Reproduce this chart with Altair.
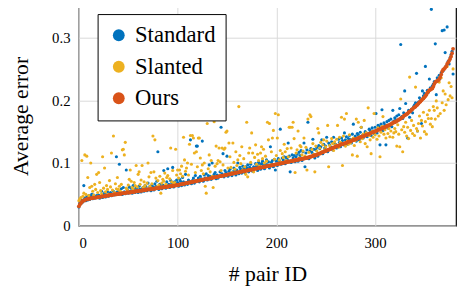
import altair as alt
import pandas as pd

# ---- data ----
ours = [
0.031,0.034,0.036,0.038,0.040,0.040,0.041,0.042,0.042,0.043,0.043,0.043,0.044,0.044,0.044,0.045,0.045,0.045,0.045,0.046,
0.046,0.046,0.046,0.047,0.047,0.047,0.047,0.048,0.048,0.048,0.048,0.049,0.049,0.049,0.049,0.050,0.050,0.050,0.050,0.051,
0.051,0.051,0.051,0.051,0.052,0.052,0.052,0.052,0.053,0.053,0.053,0.053,0.053,0.054,0.054,0.054,0.054,0.055,0.055,0.055,
0.055,0.056,0.056,0.056,0.056,0.057,0.057,0.057,0.057,0.058,0.058,0.058,0.058,0.058,0.059,0.059,0.059,0.059,0.060,0.060,
0.060,0.060,0.061,0.061,0.061,0.061,0.062,0.062,0.062,0.062,0.062,0.063,0.063,0.063,0.063,0.064,0.064,0.064,0.064,0.065,
0.065,0.065,0.066,0.066,0.066,0.067,0.067,0.067,0.068,0.068,0.068,0.069,0.069,0.069,0.070,0.070,0.070,0.071,0.071,0.071,
0.072,0.072,0.072,0.073,0.073,0.073,0.074,0.074,0.074,0.075,0.075,0.075,0.075,0.076,0.076,0.076,0.077,0.077,0.077,0.078,
0.078,0.078,0.079,0.079,0.079,0.080,0.080,0.080,0.081,0.081,0.081,0.082,0.082,0.082,0.083,0.083,0.083,0.084,0.084,0.084,
0.085,0.085,0.085,0.086,0.086,0.086,0.087,0.087,0.087,0.088,0.088,0.088,0.089,0.089,0.089,0.090,0.090,0.090,0.091,0.091,
0.091,0.092,0.092,0.092,0.093,0.093,0.093,0.094,0.094,0.094,0.095,0.095,0.095,0.096,0.096,0.096,0.097,0.097,0.097,0.098,
0.098,0.098,0.099,0.099,0.099,0.100,0.100,0.100,0.101,0.101,0.101,0.102,0.102,0.102,0.103,0.103,0.103,0.104,0.104,0.104,
0.105,0.105,0.105,0.106,0.106,0.106,0.107,0.107,0.107,0.108,0.108,0.108,0.109,0.109,0.110,0.110,0.111,0.111,0.112,0.112,
0.113,0.113,0.114,0.115,0.115,0.116,0.117,0.117,0.118,0.119,0.119,0.120,0.121,0.121,0.122,0.123,0.123,0.124,0.125,0.125,
0.126,0.127,0.127,0.128,0.128,0.129,0.130,0.130,0.131,0.131,0.132,0.132,0.133,0.134,0.134,0.135,0.135,0.136,0.137,0.137,
0.138,0.138,0.139,0.140,0.140,0.141,0.142,0.142,0.143,0.143,0.144,0.145,0.145,0.146,0.147,0.147,0.148,0.149,0.149,0.150,
0.151,0.151,0.152,0.153,0.153,0.154,0.155,0.155,0.156,0.157,0.157,0.158,0.159,0.160,0.160,0.161,0.162,0.163,0.164,0.165,
0.165,0.166,0.167,0.168,0.169,0.170,0.171,0.172,0.173,0.175,0.176,0.177,0.178,0.179,0.181,0.182,0.183,0.185,0.186,0.188,
0.189,0.190,0.192,0.193,0.195,0.197,0.198,0.200,0.202,0.203,0.205,0.207,0.209,0.212,0.214,0.216,0.217,0.218,0.219,0.222,
0.226,0.229,0.230,0.231,0.232,0.234,0.237,0.241,0.246,0.249,0.250,0.252,0.254,0.258,0.260,0.263,0.266,0.270,0.275,0.282,
]

standard = [
0.030,0.036,0.035,0.041,0.038,0.064,0.044,0.040,0.046,0.041,0.048,0.042,0.047,0.050,0.043,0.049,0.044,0.046,0.048,0.045,
0.049,0.044,0.047,0.055,0.045,0.048,0.052,0.046,0.049,0.054,0.047,0.051,0.053,0.048,0.050,0.055,0.049,0.052,0.110,0.054,
0.050,0.098,0.053,0.059,0.050,0.061,0.054,0.051,0.089,0.058,0.052,0.062,0.055,0.060,0.052,0.064,0.058,0.053,0.061,0.059,
0.053,0.063,0.058,0.054,0.059,0.061,0.055,0.064,0.062,0.056,0.068,0.059,0.063,0.056,0.065,0.062,0.057,0.067,0.063,0.071,
0.118,0.058,0.066,0.062,0.059,0.065,0.088,0.063,0.060,0.070,0.091,0.066,0.061,0.072,0.068,0.093,0.062,0.070,0.067,0.073,
0.069,0.063,0.074,0.071,0.064,0.077,0.070,0.065,0.082,0.069,0.066,0.073,0.071,0.137,0.067,0.072,0.076,0.068,0.080,0.127,
0.127,0.076,0.070,0.079,0.075,0.135,0.071,0.081,0.076,0.083,0.073,0.080,0.097,0.079,0.074,0.100,0.078,0.082,0.085,0.075,
0.081,0.076,0.079,0.086,0.157,0.083,0.115,0.078,0.088,0.085,0.111,0.079,0.087,0.090,0.084,0.080,0.086,0.092,0.088,0.081,
0.089,0.100,0.083,0.093,0.090,0.084,0.095,0.091,0.085,0.094,0.092,0.097,0.086,0.093,0.098,0.091,0.087,0.094,0.092,0.099,
0.095,0.088,0.101,0.097,0.090,0.099,0.103,0.096,0.091,0.098,0.105,0.097,0.102,0.092,0.126,0.101,0.104,0.094,0.106,0.089,
0.103,0.096,0.107,0.104,0.154,0.098,0.108,0.105,0.110,0.099,0.109,0.106,0.132,0.111,0.086,0.101,0.113,0.108,0.112,0.102,
0.110,0.114,0.103,0.117,0.112,0.120,0.104,0.118,0.132,0.094,0.116,0.121,0.165,0.107,0.119,0.123,0.117,0.138,0.122,0.108,
0.121,0.125,0.111,0.128,0.123,0.126,0.137,0.115,0.130,0.124,0.127,0.141,0.118,0.132,0.129,0.126,0.134,0.121,0.141,0.131,
0.130,0.124,0.128,0.138,0.133,0.126,0.140,0.136,0.129,0.148,0.137,0.142,0.130,0.139,0.144,0.138,0.132,0.146,0.162,0.140,
0.143,0.135,0.147,0.145,0.137,0.149,0.157,0.144,0.140,0.146,0.150,0.148,0.142,0.145,0.154,0.152,0.144,0.156,0.151,0.147,
0.157,0.179,0.148,0.160,0.158,0.129,0.162,0.185,0.152,0.164,0.161,0.129,0.166,0.156,0.168,0.160,0.170,0.158,0.184,0.167,
0.172,0.169,0.175,0.168,0.177,0.187,0.289,0.174,0.171,0.180,0.215,0.195,0.178,0.140,0.184,0.173,0.182,0.186,0.180,0.190,
0.193,0.196,0.243,0.151,0.197,0.204,0.200,0.163,0.215,0.207,0.211,0.254,0.209,0.216,0.213,0.234,0.220,0.345,0.223,0.226,
0.230,0.290,0.209,0.236,0.233,0.240,0.235,0.244,0.311,0.247,0.312,0.276,0.255,0.317,0.262,0.258,0.268,0.273,0.278,0.242,
]

slanted = [
0.040,0.043,0.045,0.104,0.047,0.052,0.113,0.050,0.111,0.077,0.048,0.061,0.100,0.063,0.055,0.049,0.066,0.058,0.082,0.053,
0.085,0.069,0.056,0.051,0.110,0.060,0.092,0.054,0.064,0.058,0.050,0.072,0.062,0.116,0.057,0.143,0.053,0.067,0.059,0.077,
0.058,0.063,0.055,0.066,0.121,0.122,0.113,0.133,0.060,0.057,0.065,0.074,0.089,0.071,0.061,0.059,0.069,0.064,0.096,0.062,
0.082,0.086,0.066,0.073,0.096,0.061,0.070,0.064,0.059,0.068,0.100,0.078,0.063,0.085,0.067,0.143,0.086,0.137,0.076,0.062,
0.072,0.065,0.079,0.052,0.068,0.074,0.071,0.084,0.066,0.077,0.080,0.063,0.075,0.124,0.070,0.088,0.067,0.069,0.122,0.081,
0.089,0.076,0.089,0.083,0.095,0.079,0.141,0.105,0.087,0.092,0.100,0.081,0.130,0.144,0.098,0.144,0.140,0.116,0.085,0.118,
0.094,0.140,0.140,0.108,0.088,0.097,0.083,0.100,0.063,0.052,0.163,0.091,0.113,0.086,0.104,0.079,0.061,0.166,0.095,0.127,
0.099,0.104,0.124,0.102,0.088,0.124,0.097,0.122,0.124,0.149,0.151,0.092,0.132,0.110,0.093,0.085,0.132,0.101,0.090,0.118,
0.096,0.105,0.190,0.112,0.099,0.126,0.089,0.107,0.094,0.082,0.165,0.078,0.116,0.124,0.101,0.148,0.116,0.086,0.109,0.129,
0.098,0.114,0.104,0.095,0.116,0.126,0.107,0.122,0.100,0.111,0.103,0.165,0.137,0.163,0.097,0.118,0.140,0.152,0.106,0.179,
0.112,0.140,0.177,0.105,0.120,0.101,0.115,0.109,0.130,0.118,0.104,0.123,0.110,0.157,0.157,0.124,0.157,0.165,0.139,0.085,
0.116,0.121,0.151,0.108,0.128,0.126,0.113,0.119,0.140,0.111,0.125,0.089,0.170,0.117,0.177,0.174,0.122,0.131,0.114,0.086,
0.127,0.119,0.155,0.148,0.124,0.133,0.118,0.129,0.137,0.121,0.126,0.135,0.160,0.094,0.128,0.123,0.139,0.131,0.120,0.134,
0.129,0.138,0.160,0.125,0.141,0.133,0.173,0.096,0.143,0.170,0.127,0.179,0.135,0.130,0.145,0.132,0.137,0.113,0.140,0.128,
0.136,0.170,0.111,0.165,0.142,0.134,0.157,0.139,0.146,0.168,0.131,0.148,0.126,0.188,0.144,0.137,0.115,0.150,0.141,0.179,
0.145,0.152,0.138,0.156,0.143,0.110,0.149,0.158,0.174,0.146,0.153,0.140,0.160,0.147,0.155,0.142,0.151,0.162,0.141,0.148,
0.155,0.150,0.127,0.161,0.146,0.126,0.202,0.153,0.118,0.158,0.149,0.165,0.143,0.157,0.139,0.237,0.152,0.168,0.147,0.160,
0.144,0.221,0.155,0.151,0.163,0.175,0.140,0.168,0.159,0.181,0.150,0.166,0.146,0.177,0.171,0.184,0.162,0.171,0.158,0.190,
0.184,0.170,0.199,0.188,0.175,0.229,0.179,0.236,0.196,0.215,0.184,0.210,0.193,0.254,0.201,0.228,0.207,0.222,0.204,0.250,
]

methods = ["Standard", "Slanted", "Ours"]
colors = ["#0072BD", "#EDB120", "#D95319"]
x_ticks = [0, 100, 200, 300]
y_ticks = [0, 0.1, 0.2, 0.3]

def frame(vals, name):
    return pd.DataFrame({"id": list(range(len(vals))), "err": vals, "method": name})

FONT = "Liberation Serif, Times New Roman, DejaVu Serif, serif"

color = alt.Color(
    "method:N",
    scale=alt.Scale(domain=methods, range=colors),
    sort=methods,
    legend=alt.Legend(
        title=None, orient="none", legendX=19, legendY=8,
        fillColor="white", strokeColor="black", padding=10,
        symbolType="circle", symbolSize=144, symbolStrokeWidth=0, symbolOpacity=1,
        labelFont=FONT, labelFontSize=23, labelColor="black",
        labelOffset=5, rowPadding=8, cornerRadius=0,
    ),
)

xenc = alt.X(
    "id:Q",
    scale=alt.Scale(domain=[0, 382], nice=False, zero=False),
    axis=alt.Axis(
        title="# pair ID", values=x_ticks, grid=True, domain=False, ticks=False,
        labelPadding=10, labelFont=FONT, labelFontSize=15, labelColor="black",
        titleFont=FONT, titleFontSize=22, titleFontWeight="normal", titleColor="black",
        titlePadding=14, gridColor="#d9d9d9", gridWidth=1,
    ),
)
yenc = alt.Y(
    "err:Q",
    scale=alt.Scale(domain=[0, 0.35], nice=False),
    axis=alt.Axis(
        title="Average error", values=y_ticks, format="~g", grid=True, domain=False, ticks=False,
        labelPadding=9, labelFont=FONT, labelFontSize=15, labelColor="black",
        titleFont=FONT, titleFontSize=22, titleFontWeight="normal", titleColor="black",
        titlePadding=19, gridColor="#d9d9d9", gridWidth=1,
    ),
)

def layer(vals, name, size):
    return alt.Chart(frame(vals, name)).mark_circle(size=size, opacity=1).encode(
        x=xenc, y=yenc, color=color
    )

chart = alt.layer(
    layer(standard, "Standard", 10),
    layer(slanted, "Slanted", 10),
    layer(ours, "Ours", 15),
).properties(
    width=383, height=223,
    autosize=alt.AutoSizeParams(type="none"),
    padding={"left": 72, "top": -4, "right": 1, "bottom": 59},
    background="white",
).configure_view(stroke="black", strokeWidth=1.2)

chart.save("out.html", embed_options={"renderer": "svg", "actions": False})
